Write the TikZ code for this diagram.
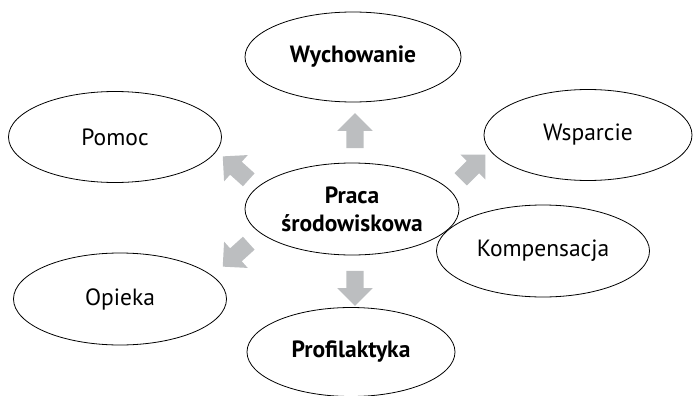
\documentclass[tikz,border=0pt]{standalone}
\usepackage{fontspec}
\setmainfont{PT Sans}
\usetikzlibrary{shapes.geometric}
\usetikzlibrary{shapes.arrows}
\definecolor{arrowgray}{RGB}{188,190,192}
\tikzset{
  oval/.style={draw, ellipse, line width=0.8pt, inner sep=0pt, align=center, font=\fontsize{23.5}{28}\selectfont},
  bigarrow/.style={single arrow, fill=arrowgray, draw=none, inner sep=8.5pt, minimum height=35pt, single arrow head extend=9pt}
}
\begin{document}
\begin{tikzpicture}[x=1pt,y=1pt,yscale=-1,xscale=1]
\useasboundingbox (0,0) rectangle (693,396);

%Shape: Ellipse, centre
\node[oval, minimum width=214pt, minimum height=92pt] (praca) at (352,209) {\textbf{Praca}\\\textbf{środowiskowa}};
%Shape: Ellipse, top
\node[oval, minimum width=216pt, minimum height=90pt] (wych) at (353,57) {\textbf{Wychowanie}};
%Shape: Ellipse, left
\node[oval, minimum width=213pt, minimum height=91pt] (pomoc) at (115,137) {Pomoc};
\node[oval, minimum width=213pt, minimum height=92pt] (opieka) at (120,299) {Opieka};
%Shape: Ellipse, right
\node[oval, minimum width=208pt, minimum height=91pt] (wsp) at (588,135) {Wsparcie};
\node[oval, minimum width=213pt, minimum height=92pt] (komp) at (543,251) {Kompensacja};
%Shape: Ellipse, bottom
\node[oval, minimum width=208pt, minimum height=89pt] (prof) at (351,352) {\textbf{Profilaktyka}};

%Shape: Arrows
\node[bigarrow, rotate=90] (arrWych) at (355,135) {};
\node[bigarrow, rotate=-90] (arrProf) at (355,284) {};
\node[bigarrow, rotate=138] (arrPomoc) at (239,171) {};
\node[bigarrow, rotate=222] (arrOpieka) at (239,252) {};
\node[bigarrow, rotate=45] (arrWsp) at (470,170) {};

\end{tikzpicture}
\end{document}
